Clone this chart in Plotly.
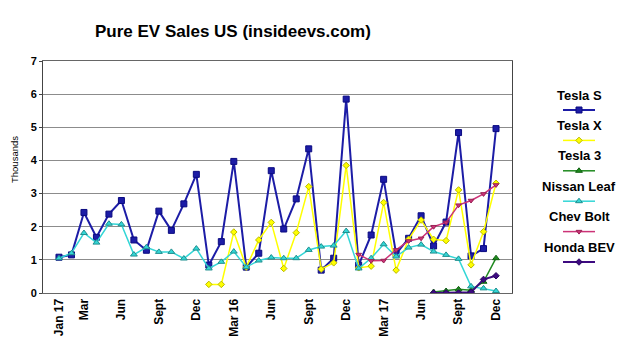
import plotly.graph_objects as go

months = list(range(36))
tick_pos = [0, 2, 5, 8, 11, 14, 17, 20, 23, 26, 29, 32, 35]
tick_text = ["Jan 17", "Mar", "Jun", "Sept", "Dec", "Mar 16", "Jun", "Sept", "Dec",
             "Mar 17", "Jun", "Sept", "Dec"]

N = None
tesla_s = [1.08, 1.15, 2.43, 1.68, 2.38, 2.79, 1.60, 1.29, 2.47, 1.89, 2.69, 3.58,
           0.84, 1.55, 3.97, 0.78, 1.20, 3.69, 1.93, 2.84, 4.35, 0.69, 1.05, 5.85,
           0.84, 1.75, 3.43, 1.18, 1.65, 2.33, 1.42, 2.14, 4.84, 1.12, 1.34, 4.96]
tesla_x = [N] * 12 + [0.26, 0.26, 1.84, 0.78, 1.60, 2.13, 0.74, 1.82, 3.21, 0.72, 0.91, 3.85,
                      0.76, 0.81, 2.73, 0.69, 1.62, 2.20, 1.62, 1.58, 3.11, 0.85, 1.85, 3.31]
tesla_3 = [N] * 30 + [0.03, 0.06, 0.11, 0.08, 0.34, 1.05]
nissan_leaf = [1.05, 1.20, 1.81, 1.52, 2.09, 2.07, 1.16, 1.38, 1.24, 1.24, 1.04, 1.34,
               0.74, 0.94, 1.25, 0.78, 0.98, 1.07, 1.05, 1.05, 1.30, 1.40, 1.43, 1.87,
               0.74, 1.05, 1.47, 1.10, 1.37, 1.46, 1.25, 1.15, 1.03, 0.20, 0.14, 0.06]
chev_bolt = [N] * 24 + [1.16, 0.97, 0.98, 1.30, 1.57, 1.65, 2.00, 2.13, 2.65, 2.79, 2.99, 3.26]
honda_bev = [N] * 30 + [0.0, 0.0, 0.0, 0.02, 0.41, 0.52]

series_names = ["Tesla S", "Tesla X", "Tesla 3", "Nissan Leaf", "Chev Bolt", "Honda BEV"]
series_values = [tesla_s, tesla_x, tesla_3, nissan_leaf, chev_bolt, honda_bev]
styles = [
    dict(color="#1c1ca6", width=2, symbol="square", msize=6, mline="#0a0a80"),
    dict(color="#ffff00", width=1.5, symbol="diamond", msize=5, mline="#b8b800"),
    dict(color="#1f8a1f", width=1.5, symbol="triangle-up", msize=6, mline="#106010"),
    dict(color="#33d6d6", width=1.5, symbol="triangle-up", msize=6, mline="#208f8f"),
    dict(color="#cc3377", width=1.5, symbol="triangle-down", msize=5, mline="#992255"),
    dict(color="#3d0a80", width=2, symbol="diamond", msize=5, mline="#2a0560"),
]

W, H = 624, 352
PL, PR, PT, PB = 43, 512, 61, 293
FONT = "Liberation Sans, Arial, sans-serif"

fig = go.Figure()
for name, vals, st in zip(series_names, series_values, styles):
    fig.add_trace(go.Scatter(
        x=months, y=vals, mode="lines+markers", name=name, showlegend=False,
        line=dict(color=st["color"], width=st["width"]),
        marker=dict(symbol=st["symbol"], size=st["msize"], color=st["color"],
                    line=dict(color=st["mline"], width=1)),
        xaxis="x", yaxis="y"))

# custom legend (text above a line sample), drawn on a pixel-space overlay axis
LEG_X0, LEG_X1, LEG_XC = 563, 595, 579
for i, (name, st) in enumerate(zip(series_names, styles)):
    ty = 95 + 30.4 * i
    ly = 110 + 30.4 * i
    fig.add_annotation(x=LEG_XC, y=ty, xref="x2", yref="y2", text="<b>%s</b>" % name,
                       showarrow=False, font=dict(family=FONT, size=13, color="black"),
                       xanchor="center", yanchor="middle")
    fig.add_trace(go.Scatter(
        x=[LEG_X0, LEG_X1], y=[ly, ly], mode="lines", showlegend=False, hoverinfo="skip",
        line=dict(color=st["color"], width=st["width"]), xaxis="x2", yaxis="y2"))
    fig.add_trace(go.Scatter(
        x=[LEG_XC], y=[ly], mode="markers", showlegend=False, hoverinfo="skip",
        marker=dict(symbol=st["symbol"], size=st["msize"], color=st["color"],
                    line=dict(color=st["mline"], width=1)), xaxis="x2", yaxis="y2"))

fig.add_annotation(x=233, y=31, xref="x2", yref="y2",
                   text="<b>Pure EV Sales US (insideevs.com)</b>", showarrow=False,
                   font=dict(family=FONT, size=17, color="black"),
                   xanchor="center", yanchor="middle")
fig.add_annotation(x=14, y=160, xref="x2", yref="y2", text="Thousands", textangle=-90,
                   showarrow=False, font=dict(family=FONT, size=9.5, color="black"),
                   xanchor="center", yanchor="middle")

fig.update_layout(
    width=W, height=H, autosize=False,
    margin=dict(l=0, r=0, t=0, b=0),
    paper_bgcolor="white", plot_bgcolor="rgba(0,0,0,0)",
    font=dict(family=FONT, size=11, color="black"),
    xaxis=dict(domain=[PL / W, PR / W], range=[-1.28, 36.28], tickmode="array",
               tickvals=tick_pos, ticktext=["<b>%s</b>" % t for t in tick_text],
               tickangle=-90, showgrid=False, zeroline=False, showline=True,
               linecolor="#666666", linewidth=1, mirror=True, ticks="",
               tickfont=dict(family=FONT, size=12, color="black"), automargin=False,
               anchor="y"),
    yaxis=dict(domain=[1 - PB / H, 1 - PT / H], range=[0, 7], dtick=1,
               tickvals=list(range(8)), ticktext=["<b>%d</b>" % v for v in range(8)],
               showgrid=True, gridcolor="#8c8c8c", gridwidth=1, zeroline=False,
               showline=True, linecolor="#444444", linewidth=1, mirror=True,
               ticks="outside", ticklen=3, tickcolor="#444444",
               tickfont=dict(family=FONT, size=11, color="black"), automargin=False,
               anchor="x"),
    xaxis2=dict(domain=[0, 1], range=[0, W], visible=False, anchor="y2",
                fixedrange=True),
    yaxis2=dict(domain=[0, 1], range=[H, 0], visible=False, anchor="x2",
                fixedrange=True),
)

fig.write_html("out.html")
